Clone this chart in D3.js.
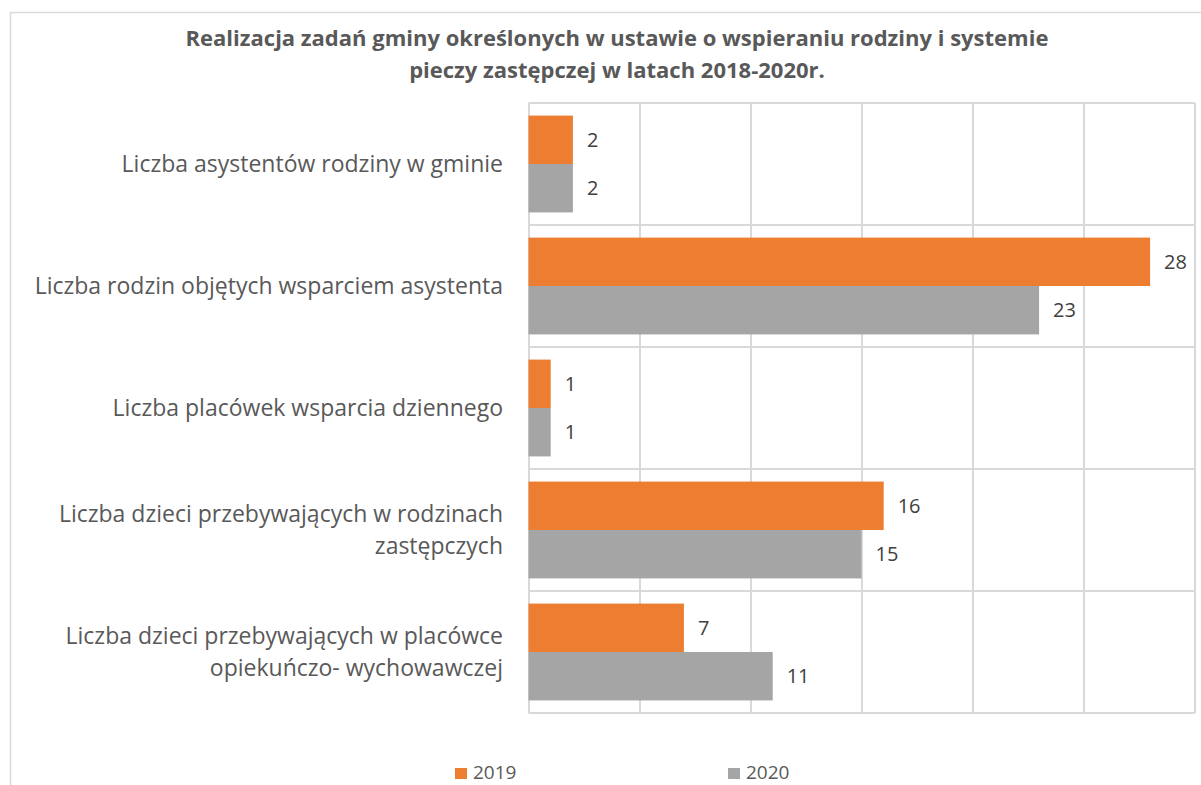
<!DOCTYPE html>
<html>
<head>
<meta charset="utf-8">
<script src="https://cdn.jsdelivr.net/npm/d3@7"></script>
<style>
  html, body { margin: 0; padding: 0; background: #fff; overflow: hidden; }
  text { font-family: "Open Sans", "Noto Sans", sans-serif; }
</style>
</head>
<body>
<svg id="chart" width="1201" height="785"></svg>
<script>
// data
const titleLines = [
  "Realizacja zadań gminy określonych w ustawie o wspieraniu rodziny i systemie",
  "pieczy zastępczej w latach 2018-2020r."
];
const categories = [
  "Liczba asystentów rodziny w gminie",
  "Liczba rodzin objętych wsparciem asystenta",
  "Liczba placówek wsparcia dziennego",
  "Liczba dzieci przebywających w rodzinach zastępczych",
  "Liczba dzieci przebywających w placówce opiekuńczo- wychowawczej"
];
const categoryLines = [
  ["Liczba asystentów rodziny w gminie"],
  ["Liczba rodzin objętych wsparciem asystenta"],
  ["Liczba placówek wsparcia dziennego"],
  ["Liczba dzieci przebywających w rodzinach", "zastępczych"],
  ["Liczba dzieci przebywających w placówce", "opiekuńczo- wychowawczej"]
];
const seriesNames = ["2019", "2020"];
const values2019 = [2, 28, 1, 16, 7];
const values2020 = [2, 23, 1, 15, 11];
const xTicks = [0, 5, 10, 15, 20, 25, 30];
const colors = ["#ED7D31", "#A5A5A5"];

const svg = d3.select("#chart");
const gridColor = "#d9d9d9";
const textColor = "#595959";

// chart frame
svg.append("rect")
  .attr("x", 10.5).attr("y", 12.5)
  .attr("width", 1210).attr("height", 800)
  .attr("fill", "#fff")
  .attr("stroke", gridColor)
  .attr("stroke-width", 1.5);

// title
svg.append("g").selectAll("text")
  .data(titleLines)
  .enter().append("text")
  .attr("x", 617)
  .attr("y", (d, i) => 46 + i * 32)
  .attr("text-anchor", "middle")
  .attr("font-size", 22)
  .attr("font-weight", "bold")
  .attr("fill", textColor)
  .text(d => d);

const plot = { left: 528.5, right: 1194.5, top: 103, bottom: 713 };

const x = d3.scaleLinear().domain([0, 30]).range([plot.left, plot.right]);
const y = d3.scaleBand().domain(categories).range([plot.top, plot.bottom]).padding(0);
const ySub = d3.scaleBand().domain(seriesNames).range([0, y.bandwidth()])
  .paddingInner(0).paddingOuter(0.26);

// vertical gridlines
const xAxis = d3.axisBottom(x)
  .tickValues(xTicks)
  .tickSize(-(plot.bottom - plot.top))
  .tickFormat("");
const gx = svg.append("g")
  .attr("transform", `translate(0,${plot.bottom})`)
  .call(xAxis);
gx.select(".domain").remove();
gx.selectAll(".tick line").attr("stroke", gridColor).attr("stroke-width", 2);

// horizontal category lines
const boundaries = categories.map(c => y(c)).concat([plot.bottom]);
svg.append("g").selectAll("line")
  .data(boundaries)
  .enter().append("line")
  .attr("x1", plot.left).attr("x2", plot.right)
  .attr("y1", d => d).attr("y2", d => d)
  .attr("stroke", gridColor)
  .attr("stroke-width", 2);

// bars
const rows = categories.map((c, i) => ({ cat: c, vals: [values2019[i], values2020[i]] }));
const groups = svg.append("g").selectAll("g")
  .data(rows)
  .enter().append("g")
  .attr("transform", d => `translate(0,${y(d.cat)})`);

groups.selectAll("rect")
  .data(d => d.vals.map((v, j) => ({ v, s: seriesNames[j], j })))
  .enter().append("rect")
  .attr("x", x(0))
  .attr("y", d => ySub(d.s))
  .attr("width", d => x(d.v) - x(0))
  .attr("height", ySub.bandwidth())
  .attr("fill", d => colors[d.j]);

groups.selectAll("text.val")
  .data(d => d.vals.map((v, j) => ({ v, s: seriesNames[j], j })))
  .enter().append("text")
  .attr("class", "val")
  .attr("x", d => x(d.v) + 14)
  .attr("y", d => ySub(d.s) + ySub.bandwidth() / 2)
  .attr("dy", "0.35em")
  .attr("font-size", 20)
  .attr("fill", "#404040")
  .text(d => d.v);

// category labels
const labels = svg.append("g").selectAll("text")
  .data(categories)
  .enter().append("text")
  .attr("text-anchor", "end")
  .attr("font-size", 23)
  .attr("fill", textColor);

labels.each(function (c, i) {
  const lines = categoryLines[i];
  const cy = y(c) + y.bandwidth() / 2;
  const lh = 32;
  d3.select(this).selectAll("tspan")
    .data(lines)
    .enter().append("tspan")
    .attr("x", 503)
    .attr("y", (d, k) => cy + (k - (lines.length - 1) / 2) * lh)
    .attr("dy", "0.35em")
    .text(d => d);
});

// legend (partly cut at the bottom in the original; kept fully inside here)
const legendX = [455, 728];
const legend = svg.append("g").selectAll("g")
  .data(seriesNames)
  .enter().append("g")
  .attr("transform", (d, i) => `translate(${legendX[i]},0)`);
legend.append("rect")
  .attr("x", 0).attr("y", 768)
  .attr("width", 12).attr("height", 11)
  .attr("fill", (d, i) => colors[i]);
legend.append("text")
  .attr("x", 18).attr("y", 779)
  .attr("font-size", 19)
  .attr("fill", textColor)
  .text(d => d);
</script>
</body>
</html>
